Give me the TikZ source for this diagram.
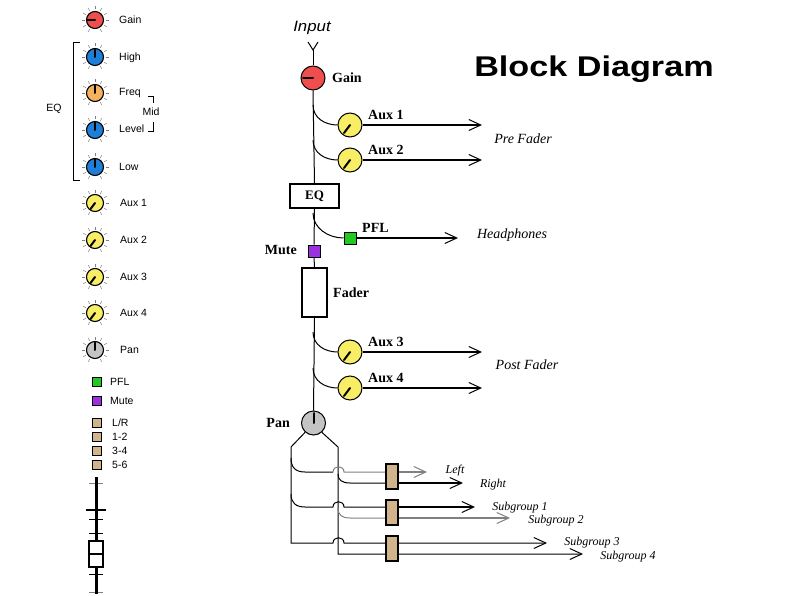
\documentclass[tikz,border=0pt]{standalone}
\usepackage{fontspec}
\setmainfont{Liberation Serif}
\newfontfamily\sansf{Liberation Sans}
\usetikzlibrary{arrows.meta}
\definecolor{knred}{HTML}{EE4E4E}
\definecolor{knblue}{HTML}{1F7FD6}
\definecolor{knorange}{HTML}{F4B25E}
\definecolor{knyellow}{HTML}{F7EE66}
\definecolor{kngray}{HTML}{C4C4C4}
\definecolor{pflgreen}{HTML}{22C922}
\definecolor{mutepurple}{HTML}{9B30E0}
\definecolor{fadertan}{HTML}{D2B48C}
\definecolor{thingray}{HTML}{808080}
\newcommand\potticks[2]{\foreach \a in {120,150,...,420} \draw[gray,line width=0.5pt] (#1,#2) ++(\a:10.5) -- ++(\a:3);}
\begin{document}
\begin{tikzpicture}[x=1pt,y=-1pt,
  lknob/.style={circle,draw,line width=1.1pt,minimum size=17pt,inner sep=0pt},
  bknob/.style={circle,draw,line width=1pt,minimum size=24pt,inner sep=0pt},
  llabel/.style={font=\sansf\fontsize{10.5}{12}\selectfont,anchor=west,inner sep=0pt,text height=7.5pt,text depth=0pt},
  blabel/.style={font=\bfseries\fontsize{14}{16}\selectfont,inner sep=0pt,text height=9.3pt,text depth=0pt},
  olabel/.style={font=\itshape\fontsize{14}{16}\selectfont,inner sep=0pt,text height=9.3pt,text depth=0pt},
  slabel/.style={font=\itshape\fontsize{12}{14}\selectfont,inner sep=0pt,text height=8pt,text depth=0pt},
  sig/.style={line width=1pt},
  barb/.style={-{Straight Barb[length=12pt,width=11pt,line width=1pt]}},
  outarrow/.style={line width=1.1pt,barb},
  pointer/.style={line width=2pt,line cap=round},
  lsq/.style={draw,line width=1.2pt,minimum size=9pt,inner sep=0pt},
  bsq/.style={draw,line width=1pt,minimum size=12pt,inner sep=0pt},
  fbox/.style={draw,line width=1.8pt,fill=fadertan,minimum width=12pt,minimum height=25pt,inner sep=0pt},
]
\path[use as bounding box,fill=white] (0,0) rectangle (794,596);

% ---------------- left strip ----------------
\foreach \y/\c/\n in {20/knred/lgain,57/knblue/lhigh,93/knorange/lfreq,130/knblue/llevel,167/knblue/llow,
                      203/knyellow/laux1,240/knyellow/laux2,277/knyellow/laux3,313/knyellow/laux4,350/kngray/lpan}{
  \potticks{95}{\y}
  \node[lknob,fill=\c] (\n) at (95,\y) {};
}
\draw[pointer] (lgain.center) -- ++(-7.5,0);
\foreach \n in {lhigh,lfreq,llevel,llow,lpan} \draw[pointer] (\n.center) -- ++(0,-7.5);
\foreach \n in {laux1,laux2,laux3,laux4} \draw[pointer] (\n.center) -- ++(-4.5,6);

\node[llabel] (tgain) at (119,20) {Gain};
\node[llabel] (thigh) at (119,57) {High};
\node[llabel] (tfreq) at (119,92) {Freq};
\node[llabel] (tlevel) at (119,129) {Level};
\node[llabel] (tlow) at (119,167) {Low};
\node[llabel] (taux1) at (120,203) {Aux 1};
\node[llabel] (taux2) at (120,240) {Aux 2};
\node[llabel] (taux3) at (120,277) {Aux 3};
\node[llabel] (taux4) at (120,313) {Aux 4};
\node[llabel] (tpan) at (120,350) {Pan};

\node[font=\sansf\fontsize{10.5}{12}\selectfont,inner sep=0pt,text height=7.5pt,text depth=0pt] (teq) at (54,108) {EQ};
\draw[line width=1pt] (80,43) -- (73,43) -- (73,180) -- (80,180);
\node[font=\sansf\fontsize{10.5}{12}\selectfont,inner sep=0pt,text height=7.5pt,text depth=0pt] (tmid) at (151,112) {Mid};
\draw[line width=1pt] (148,97) -- (153,97) -- (153,103);
\draw[line width=1pt] (153,122) -- (153,132) -- (148,132);

\node[lsq,fill=pflgreen] (lpfl) at (97,382) {};
\node[llabel] (tpfl) at (110,382) {PFL};
\node[lsq,fill=mutepurple] (lmute) at (97,401) {};
\node[llabel] (tmute) at (110,401) {Mute};
\foreach \y/\t/\n in {423/{L/R}/lr,437/{1-2}/g12,451/{3-4}/g34,465/{5-6}/g56}{
  \node[lsq,fill=fadertan] (sq\n) at (97,\y) {};
  \node[llabel] (t\n) at (112,\y) {\t};
}
% left fader
\foreach \y/\c in {483/gray,519/black,533/black,574/black,592/gray}
  \draw[\c,line width=1pt] (89,\y) -- (103,\y);
\draw[line width=3pt] (96,477) -- (96,594);
\draw[line width=1.8pt] (86,510) -- (106,510);
\node[draw,line width=1.3pt,fill=white,minimum width=14pt,minimum height=26pt,inner sep=0pt] (lfcap) at (96,554) {};
\draw[line width=2.5pt] (lfcap.west) -- (lfcap.east);

% ---------------- title ----------------
\node[font=\sansf\bfseries\fontsize{28.5}{32}\selectfont,xscale=1.2,anchor=base,inner sep=0pt] (title) at (594,77) {Block Diagram};

% ---------------- block diagram ----------------
\node[font=\sansf\itshape\fontsize{15}{17}\selectfont,xscale=1.12,inner sep=0pt] (input) at (312,28) {Input};
\coordinate (antl) at (308,42);
\coordinate (antr) at (318,42);
\coordinate (ant) at (313,50);
\node[bknob,fill=knred] (bgain) at (313,78) {};
\node[blabel,anchor=west] (lbgain) at (332,78) {Gain};
\node[draw,line width=1.8pt,fill=white,minimum width=49pt,minimum height=24pt,inner sep=0pt,font=\bfseries\fontsize{13}{15}\selectfont] (eq) at (314.5,196) {EQ};
\node[bsq,fill=mutepurple] (mute) at (314,251) {};
\node[blabel,anchor=east] (lmute) at (297,250) {Mute};
\node[draw,line width=1.8pt,fill=white,minimum width=25pt,minimum height=49pt,inner sep=0pt] (fader) at (314.5,292.5) {};
\node[blabel,anchor=west] (lfader) at (333,293) {Fader};
\node[bknob,fill=kngray] (pan) at (313.5,423) {};
\node[blabel,anchor=east] (lpan) at (290,423) {Pan};

\draw[sig] (antl) -- (ant) -- (antr);
\draw[sig] (ant) -- (bgain.north);
\draw[sig] (bgain.south) -- (eq.north);
\draw[sig] (eq.south) -- (mute.north);
\draw[sig] (mute.south) -- (fader.north);
\draw[sig] (fader.south) -- (pan.north);
\draw[pointer] (bgain.center) -- ++(-10,0);
\draw[pointer] (pan.center) -- ++(0,-10);

% aux sends
\foreach \n/\ty/\y/\lab/\to in {a1/105/125/Aux 1/o1,a2/140/160/Aux 2/o2,a3/332/352/Aux 3/o3,a4/368/388/Aux 4/o4}{
  \coordinate (tap\n) at (313,\ty);
  \node[bknob,fill=knyellow] (\n) at (350,\y) {};
  \draw[pointer] (\n.center) -- ++(-6,8);
  \node[blabel,anchor=west] (l\n) at (368,\y-10) {\lab};
  \coordinate (\to) at (482,\y);
  \draw[sig] (tap\n) .. controls (313,\ty+13) and (325,\y) .. (\n.west);
  \draw[outarrow] (\n.east) -- (\to);
}
\node[olabel] (prefader) at (523,139) {Pre Fader};
\node[olabel] (postfader) at (527,365) {Post Fader};

% PFL
\coordinate (tappfl) at (313,213);
\node[bsq,fill=pflgreen] (pfl) at (350,238) {};
\node[blabel,anchor=west] (lpfl) at (362,228) {PFL};
\coordinate (ohp) at (458,238);
\draw[sig] (tappfl) .. controls (313,228) and (328,238) .. (pfl.west);
\draw[outarrow] (pfl.east) -- (ohp);
\node[olabel] (headphones) at (512,234) {Headphones};

% ---------------- routing ----------------
\coordinate (lb) at (291,447);
\coordinate (rb) at (338,447);
\coordinate (oleft) at (427,472);
\coordinate (oright) at (463,483);
\coordinate (osg1) at (475,507);
\coordinate (osg2) at (510,518);
\coordinate (osg3) at (547,543);
\coordinate (osg4) at (583,554);
% buses
\draw[sig,barb] (pan.-132) -- (lb) -- (291,543) -- (333,543) .. controls (333,536) and (344,536) .. (344,543) -- (osg3);
\draw[sig,barb] (pan.-48) -- (rb) -- (338,554) -- (osg4);
% row 1 (left)
\draw[sig] (291,458) .. controls (291,468) and (296,472) .. (305,472) -- (333,472);
\draw[sig,thingray] (333,472) .. controls (333,465) and (344,465) .. (344,472) -- (386,472);
\draw[outarrow,thingray] (398,472) -- (oleft);
% row 2 (right)
\draw[sig] (338,474) .. controls (338,480) and (342,483) .. (350,483) -- (386,483);
\draw[outarrow] (398,483) -- (oright);
% row 3 (subgroup 1)
\draw[sig] (291,494) .. controls (291,503) and (296,507) .. (305,507) -- (333,507) .. controls (333,500) and (344,500) .. (344,507) -- (386,507);
\draw[outarrow] (398,507) -- (osg1);
% row 4 (subgroup 2)
\draw[sig,thingray] (338,508) .. controls (338,515) and (342,518) .. (350,518) -- (386,518);
\draw[outarrow,thingray] (398,518) -- (osg2);
% faders
\node[fbox] (f1) at (392,476.5) {};
\node[fbox] (f2) at (392,512.5) {};
\node[fbox] (f3) at (392,548.5) {};

\node[slabel] (tleft) at (455,469) {Left};
\node[slabel] (tright) at (493,483) {Right};
\node[slabel] (tsg1) at (520,506) {Subgroup 1};
\node[slabel] (tsg2) at (556,519) {Subgroup 2};
\node[slabel] (tsg3) at (592,541) {Subgroup 3};
\node[slabel] (tsg4) at (628,555) {Subgroup 4};
\end{tikzpicture}
\end{document}
